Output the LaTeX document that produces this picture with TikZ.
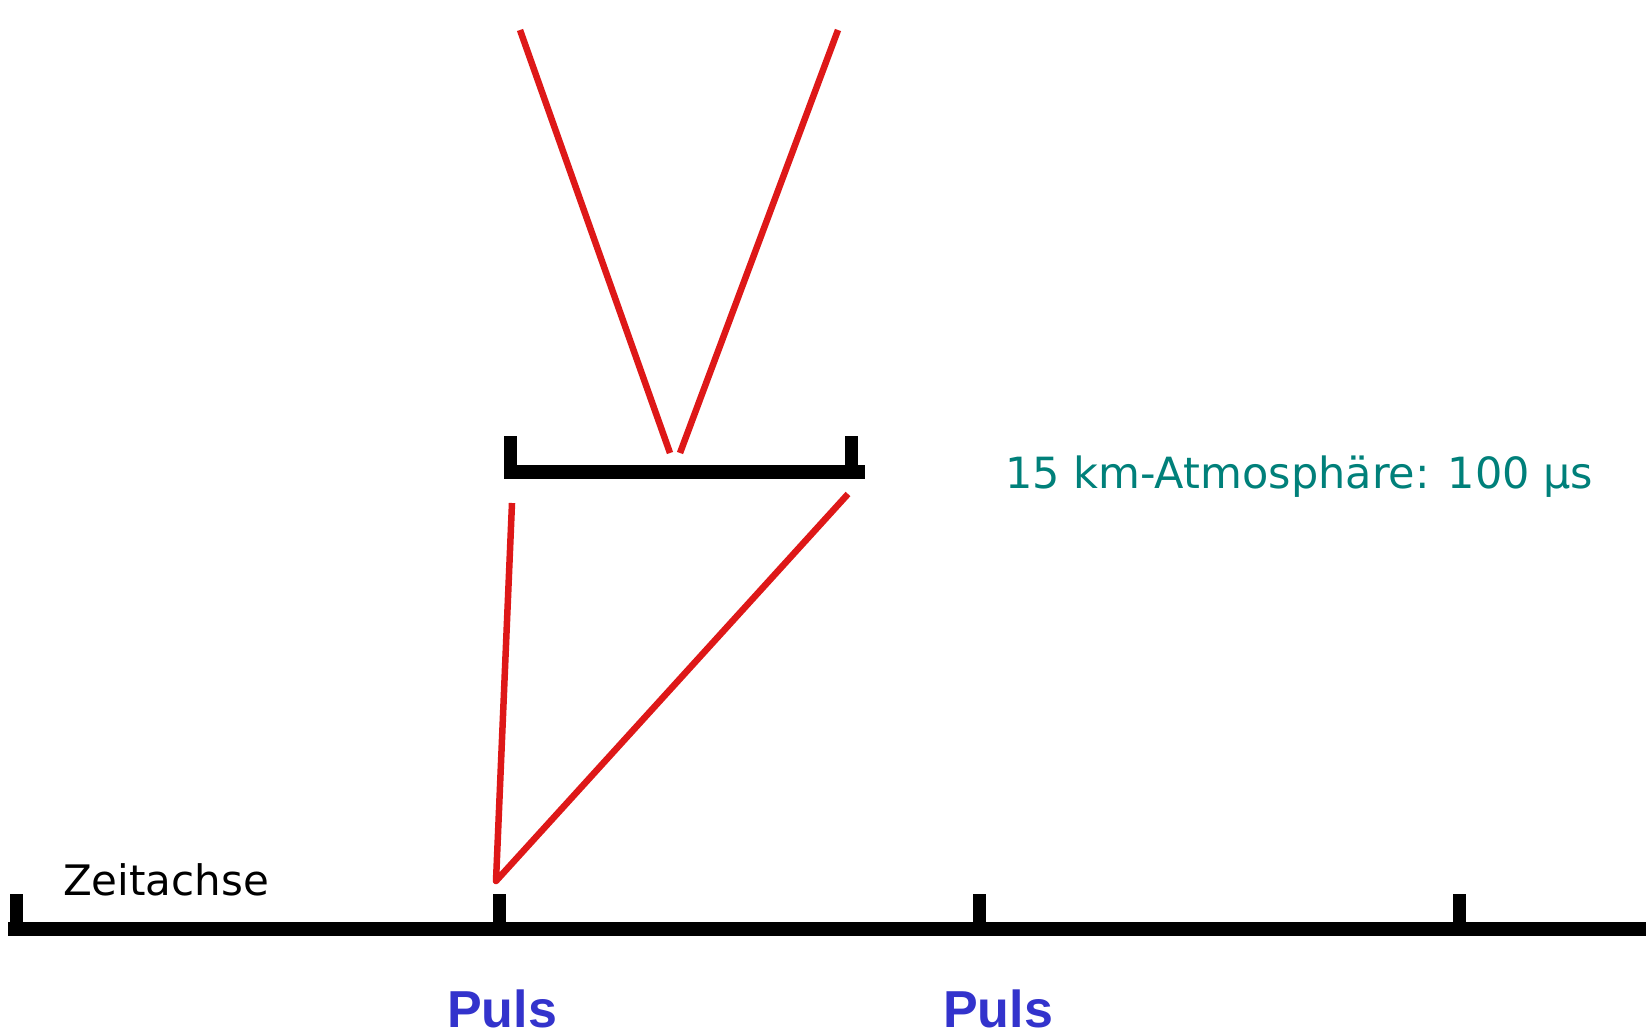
\documentclass[tikz,border=0pt]{standalone}
\usepackage{fontspec}
\setmainfont{DejaVu Sans}
\newfontfamily\pulsfont{Liberation Sans}
\definecolor{redline}{RGB}{222,24,24}
\definecolor{tealtxt}{RGB}{0,128,122}
\definecolor{pulsblue}{RGB}{51,51,204}
\tikzset{
  axisline/.style={line width=14pt, black},
  tickline/.style={line width=13pt, black},
  ray/.style={line width=6.5pt, redline},
  lbl/.style={inner sep=0pt, anchor=base west},
}
\begin{document}
\begin{tikzpicture}[x=1pt,y=-1pt]
\useasboundingbox[fill=white] (0,0) rectangle (1648,1035);
% time axis
\coordinate (axL) at (8,929);
\coordinate (axR) at (1646,929);
\draw[axisline] (axL) -- (axR);
\foreach \n/\x in {t0/16,t1/499,t2/979,t3/1459}{
  \coordinate (\n) at (\x,929);
  \coordinate (\n top) at (\x,894);
  \draw[tickline] (\n top) -- (\n);
}
% bracket
\coordinate (bL) at (504,472);
\coordinate (bR) at (865,472);
\draw[axisline] (bL) -- (bR);
\coordinate (bLt) at (510.5,436);
\coordinate (bLb) at (510.5,472);
\coordinate (bRt) at (851.5,436);
\coordinate (bRb) at (851.5,472);
\draw[tickline] (bLt) -- (bLb);
\draw[tickline] (bRt) -- (bRb);
% red rays
\coordinate (v1) at (520,30);
\coordinate (v2) at (670,453);
\coordinate (v3) at (680,453);
\coordinate (v4) at (838,30);
\draw[ray] (v1) -- (v2);
\draw[ray] (v3) -- (v4);
\coordinate (r1) at (512,503);
\coordinate (r2) at (496,881);
\coordinate (r4) at (848,494);
\draw[ray, line join=round] (r1) -- (r2) -- (r4);
% texts
\node[lbl, font=\fontsize{42}{48}\selectfont] (zeit) at (63,895) {Zeitachse};
\node[lbl, font=\fontsize{43}{50}\selectfont, text=tealtxt] (atm) at (1005,488) {15 km-Atmosphäre: 100 µs};
\node[inner sep=0pt, anchor=base, font=\pulsfont\bfseries\fontsize{52}{60}\selectfont, text=pulsblue] (p1) at (502,1027) {Puls};
\node[inner sep=0pt, anchor=base, font=\pulsfont\bfseries\fontsize{52}{60}\selectfont, text=pulsblue] (p2) at (998,1027) {Puls};
\end{tikzpicture}
\end{document}
